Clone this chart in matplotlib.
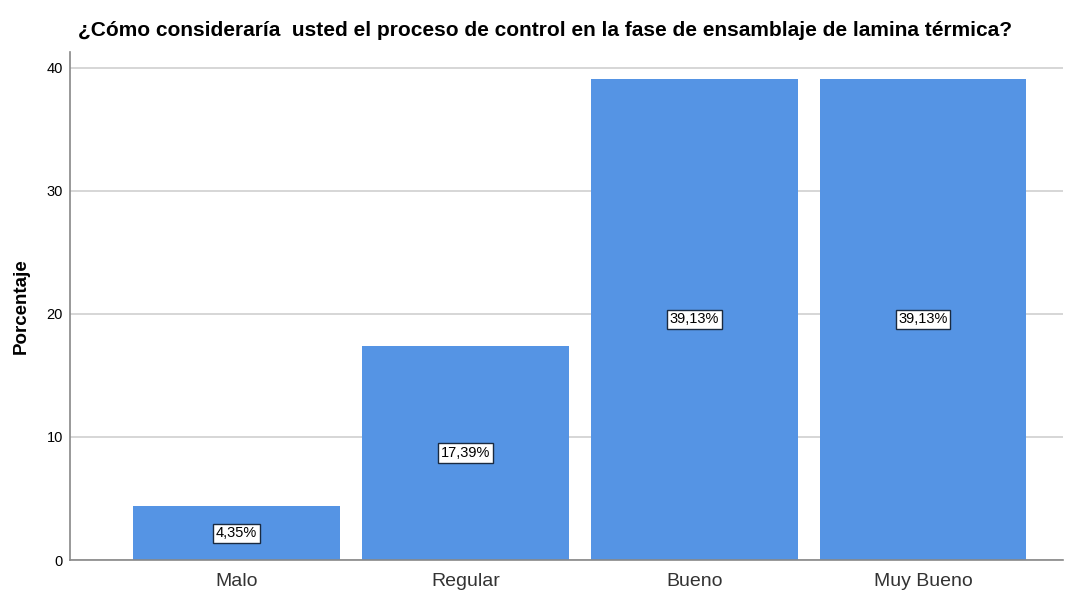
import matplotlib
matplotlib.use("agg")
import matplotlib.pyplot as plt
import numpy as np

categorias = ['Malo', 'Regular', 'Bueno', 'Muy Bueno']
porcentajes = [4.35, 17.39, 39.13, 39.13]
etiquetas = ['4,35%', '17,39%', '39,13%', '39,13%']
yticks = [0, 10, 20, 30, 40]

plt.rcParams['font.family'] = ['Liberation Sans', 'DejaVu Sans']

fig = plt.figure(figsize=(10.75, 5.91), dpi=100)
ax = fig.add_axes([70/1075, 1 - 560/591, (1063 - 70)/1075, (560 - 52)/591])

x = np.arange(len(categorias))
ax.bar(x, porcentajes, width=0.903, color='#5594e4', zorder=2)

for xi, v, t in zip(x, porcentajes, etiquetas):
    ax.text(xi, v / 2, t, ha='center', va='center', fontsize=10.5, zorder=3,
            bbox=dict(boxstyle='square,pad=0.18', fc='white', ec='#1a2a40', lw=1))

ax.set_xlim(-0.727, 3.611)
ax.set_ylim(0, 41.3)
ax.set_yticks(yticks)
ax.set_xticks(x)
ax.set_xticklabels(categorias, fontsize=14, color='#333333')
ax.tick_params(axis='y', length=0, labelsize=10.5, pad=5)
ax.tick_params(axis='x', length=0, pad=9)
ax.yaxis.grid(True, color='#d0d0d0', lw=1.2, zorder=0)
ax.set_axisbelow(True)
for s in ['top', 'right']:
    ax.spines[s].set_visible(False)
for s in ['left', 'bottom']:
    ax.spines[s].set_color('#888888')
    ax.spines[s].set_linewidth(1.2)

ax.set_ylabel('Porcentaje', fontsize=13.5, fontweight='bold', labelpad=12)
fig.text(78/1075, 1 - 31/591, '¿Cómo consideraría  usted el proceso de control en la fase de ensamblaje de lamina térmica?',
         fontsize=15, fontweight='bold', ha='left', va='center')

plt.savefig('out.png', dpi=100)
